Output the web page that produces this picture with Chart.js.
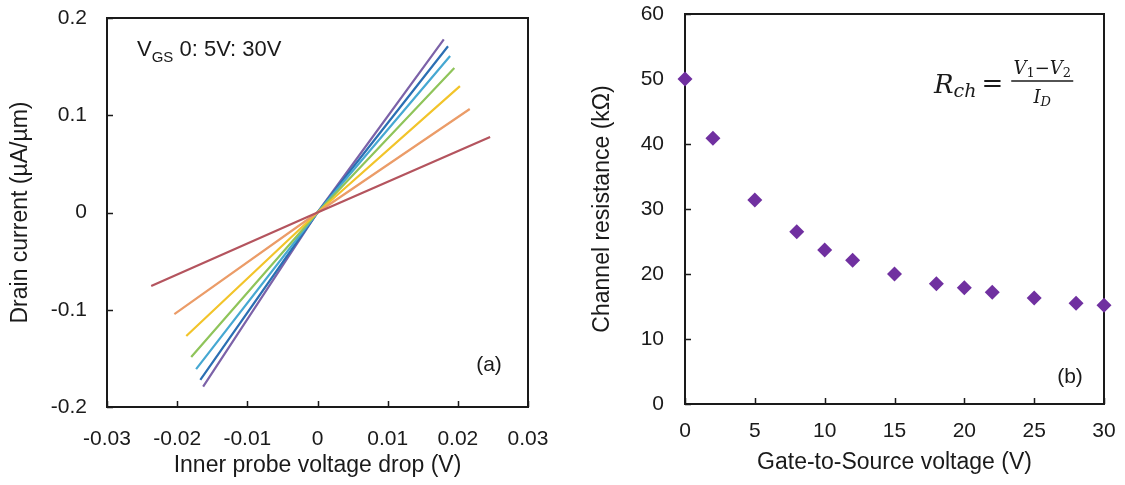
<!DOCTYPE html>
<html>
<head>
<meta charset="utf-8">
<title>Drain current and channel resistance</title>
<script src="https://cdn.jsdelivr.net/npm/chart.js@4.4.1/dist/chart.umd.min.js"></script>
<style>
  body { margin: 0; background: #fff; }
  #wrap { position: relative; width: 1125px; height: 485px; }
  #leftBox { position: absolute; left: 0; top: 0; width: 560px; height: 485px; }
  #rightBox { position: absolute; left: 560px; top: 0; width: 565px; height: 485px; }
</style>
</head>
<body>
<div id="wrap">
  <div id="leftBox"><canvas id="ivChart" width="560" height="485"></canvas></div>
  <div id="rightBox"><canvas id="rchChart" width="565" height="485"></canvas></div>
</div>
<script>
// (a) I-V sweeps, one line per V_GS step (0:5V:30V)
const gateSteps = ['0 V', '5 V', '10 V', '15 V', '20 V', '25 V', '30 V'];
const lineColors = ['#b4545e', '#eb9c68', '#f2c42a', '#8fc45a', '#46a8d2', '#2b6fb3', '#7c62a8'];
const sweepLowV = [-0.0237, -0.0204, -0.0187, -0.0180, -0.0173, -0.0167, -0.0163];
const sweepLowI = [-0.0756, -0.1044, -0.127, -0.1486, -0.161, -0.172, -0.179];
const sweepHighV = [0.0246, 0.0217, 0.0203, 0.0195, 0.0189, 0.0186, 0.0180];
const sweepHighI = [0.0776, 0.1064, 0.130, 0.1486, 0.161, 0.171, 0.178];

// (b) channel resistance vs gate-to-source voltage
const vgs = [0, 2, 5, 8, 10, 12, 15, 18, 20, 22, 25, 28, 30];
const rch = [50.0, 40.9, 31.4, 26.5, 23.7, 22.1, 20.0, 18.5, 17.9, 17.2, 16.3, 15.5, 15.2];

const SANS = '"Liberation Sans", Arial, sans-serif';
const SERIF = '"DejaVu Serif", serif';
const INK = '#1a1a1a';

// box all round + ticks pointing in
const frameTicks = {
  id: 'frameTicks',
  beforeDatasetsDraw(chart) {
    const { ctx, chartArea: a, scales } = chart;
    ctx.save();
    ctx.strokeStyle = INK;
    ctx.lineWidth = 2;
    ctx.strokeRect(a.left, a.top, a.right - a.left, a.bottom - a.top);
    ctx.lineWidth = 1.5;
    ctx.beginPath();
    scales.x.ticks.forEach(t => {
      const px = Math.round(scales.x.getPixelForValue(t.value)) + 0.5;
      ctx.moveTo(px, a.bottom);
      ctx.lineTo(px, a.bottom - 6);
    });
    scales.y.ticks.forEach(t => {
      const py = Math.round(scales.y.getPixelForValue(t.value)) + 0.5;
      ctx.moveTo(a.left, py);
      ctx.lineTo(a.left + 6, py);
    });
    ctx.stroke();
    ctx.restore();
  }
};

// write pieces of text one after another (for sub scripts)
function drawRuns(ctx, x, y, runs) {
  runs.forEach(r => {
    ctx.font = r.font;
    ctx.fillText(r.text, x, y + (r.dy || 0));
    x += ctx.measureText(r.text).width;
  });
  return x;
}
function runsWidth(ctx, runs) {
  let w = 0;
  runs.forEach(r => { ctx.font = r.font; w += ctx.measureText(r.text).width; });
  return w;
}

const noteA = {
  id: 'noteA',
  afterDraw(chart) {
    const { ctx, chartArea: a } = chart;
    ctx.save();
    ctx.fillStyle = INK;
    ctx.textBaseline = 'alphabetic';
    ctx.textAlign = 'left';
    drawRuns(ctx, a.left + 30, a.top + 38, [
      { text: 'V', font: '22px ' + SANS },
      { text: 'GS', font: '15px ' + SANS, dy: 6 },
      { text: ' 0: 5V: 30V', font: '22px ' + SANS }
    ]);
    ctx.font = '21px ' + SANS;
    ctx.textAlign = 'center';
    ctx.textBaseline = 'middle';
    ctx.fillText('(a)', a.right - 39, a.bottom - 42);
    ctx.restore();
  }
};

const noteB = {
  id: 'noteB',
  afterDraw(chart) {
    const { ctx, chartArea: a } = chart;
    ctx.save();
    ctx.fillStyle = INK;
    ctx.strokeStyle = INK;
    ctx.textAlign = 'left';
    ctx.textBaseline = 'alphabetic';
    // R_ch = (V1 - V2) / I_D
    const x0 = a.right - 170, base = a.top + 79;
    let x = drawRuns(ctx, x0, base, [
      { text: 'R', font: 'italic 26px ' + SERIF },
      { text: 'ch', font: 'italic 19px ' + SERIF, dy: 4 }
    ]);
    x = drawRuns(ctx, x + 5, base - 1, [{ text: '=', font: '26px ' + SERIF }]);
    const fracL = x + 8, fracR = fracL + 62, mid = (fracL + fracR) / 2;
    ctx.lineWidth = 1.4;
    ctx.beginPath();
    ctx.moveTo(fracL, base - 12);
    ctx.lineTo(fracR, base - 12);
    ctx.stroke();
    const num = [
      { text: 'V', font: 'italic 18px ' + SERIF },
      { text: '1', font: '13px ' + SERIF, dy: 3 },
      { text: '\u2212', font: '18px ' + SERIF },
      { text: 'V', font: 'italic 18px ' + SERIF },
      { text: '2', font: '13px ' + SERIF, dy: 3 }
    ];
    drawRuns(ctx, mid - runsWidth(ctx, num) / 2, base - 19, num);
    const den = [
      { text: 'I', font: 'italic 18px ' + SERIF },
      { text: 'D', font: 'italic 13px ' + SERIF, dy: 3 }
    ];
    drawRuns(ctx, mid - runsWidth(ctx, den) / 2, base + 10, den);

    ctx.font = '21px ' + SANS;
    ctx.textAlign = 'center';
    ctx.textBaseline = 'middle';
    ctx.fillText('(b)', a.right - 34, a.bottom - 27);
    ctx.restore();
  }
};

Chart.defaults.font.family = SANS;
Chart.defaults.color = INK;

// gap = distance from the axis line to the labels; kept in tickLength (hidden)
// so that ticks.padding stays small and doesn't eat into the plot area
function axis(min, max, step, fmt, titleText, fitSide, fitSize, gap, titlePad) {
  return {
    type: 'linear',
    min: min,
    max: max,
    grid: {
      display: true,
      drawOnChartArea: false,
      drawTicks: true,
      tickLength: gap,
      color: 'rgba(0,0,0,0)'
    },
    border: { display: false },
    ticks: {
      stepSize: step,
      padding: 1,
      font: { size: 21 },
      color: INK,
      callback: fmt
    },
    title: {
      display: true,
      text: titleText,
      font: { size: 23 },
      color: INK,
      padding: titlePad
    },
    afterFit(scale) { scale[fitSide] = fitSize; }
  };
}

// (a)
const ivSets = gateSteps.map((g, i) => ({
  label: 'V_GS ' + g,
  data: [
    { x: sweepLowV[i], y: sweepLowI[i] },
    { x: 0, y: 0 },
    { x: sweepHighV[i], y: sweepHighI[i] }
  ],
  showLine: true,
  borderColor: lineColors[i],
  backgroundColor: lineColors[i],
  borderWidth: 2.2,
  pointRadius: 0,
  tension: 0
}));

new Chart(document.getElementById('ivChart'), {
  type: 'scatter',
  data: { datasets: ivSets },
  options: {
    responsive: false,
    animation: false,
    devicePixelRatio: 1,
    layout: { padding: { top: 18, right: 32, left: 0, bottom: 0 } },
    plugins: { legend: { display: false }, tooltip: { enabled: false } },
    scales: {
      x: axis(-0.03, 0.03, 0.01, v => String(+v.toFixed(3)), 'Inner probe voltage drop (V)', 'height', 78, 19, { top: 4, bottom: 6 }),
      y: axis(-0.2, 0.2, 0.1, v => String(+v.toFixed(2)), 'Drain current (\u00b5A/\u00b5m)', 'width', 107, 19, { top: 7, bottom: 4 })
    }
  },
  plugins: [frameTicks, noteA]
});

// (b)
new Chart(document.getElementById('rchChart'), {
  type: 'scatter',
  data: {
    datasets: [{
      label: 'Channel resistance',
      data: vgs.map((v, i) => ({ x: v, y: rch[i] })),
      pointStyle: 'rectRot',
      pointRadius: 7.5,
      backgroundColor: '#7030a0',
      borderColor: '#7030a0',
      borderWidth: 0,
      clip: false
    }]
  },
  options: {
    responsive: false,
    animation: false,
    devicePixelRatio: 1,
    layout: { padding: { top: 14, right: 21, left: 0, bottom: 0 } },
    plugins: { legend: { display: false }, tooltip: { enabled: false } },
    scales: {
      x: axis(0, 30, 5, v => String(v), 'Gate-to-Source voltage (V)', 'height', 81, 14, { top: 4, bottom: 9 }),
      y: axis(0, 60, 10, v => String(v), 'Channel resistance (k\u03a9)', 'width', 125, 20, { top: 29, bottom: 4 })
    }
  },
  plugins: [frameTicks, noteB]
});
</script>
</body>
</html>
